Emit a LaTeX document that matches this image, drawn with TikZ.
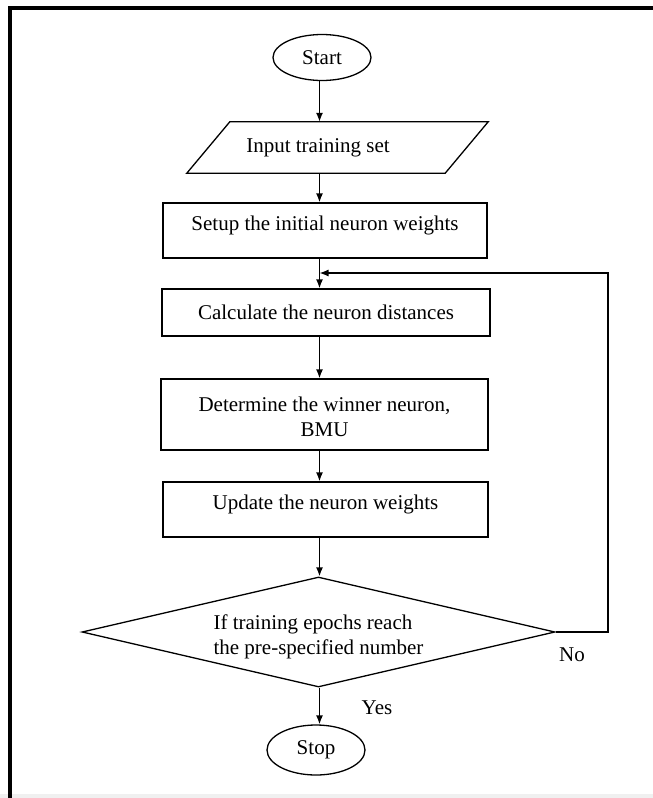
\documentclass[tikz,border=0pt]{standalone}
\usepackage{fontspec}
\setmainfont{Liberation Serif}
\usetikzlibrary{arrows.meta}
\usetikzlibrary{shapes.geometric}
\usetikzlibrary{calc}

\begin{document}
\begin{tikzpicture}[
  x=1pt, y=-1pt,
  > = {Latex[length=9pt,width=7pt]},
  every node/.style = {font=\fontsize{21}{25}\selectfont},
  terminal/.style = {draw, ellipse, line width=1.3pt, inner sep=0pt, minimum width=98pt, minimum height=46pt},
  io/.style = {inner sep=0pt, minimum width=301pt, minimum height=51pt},
  block/.style = {draw, rectangle, line width=1.3pt, inner sep=0pt, align=center, minimum height=55pt},
  upper text/.style = {text height=15pt, text depth=16pt},
  decision/.style = {draw, diamond, shape aspect=4.3, line width=1.3pt, inner sep=0pt, align=left, minimum width=473pt, minimum height=110pt},
  flow/.style = {->, line width=1.4pt}
  ]
  \useasboundingbox (0,0) rectangle (653,798);
  \fill[black!6] (0,794) rectangle (653,798);
  \draw[line width=3.5pt] (10,798) |- (653,8);

  \coordinate (axis) at (319.5,0);
  \coordinate (back) at (608,273);

  \node[terminal] (start) at (322,57.5) {Start};
  \node[io] (input) at (337.5,147.5) {};
  \draw[line width=1.3pt] (input.south west) -- ($(input.north west)+(43,0)$)
    -- (input.north east) -- ($(input.south east)+(-43,0)$) -- cycle;
  \node (inputtext) at (318,148) {Input training set};
  \node[block, upper text, minimum width=324pt] (setup) at (325,230.5) {Setup the initial neuron weights};
  \node[block, minimum width=328pt, minimum height=47pt] (calc) at (326,312.5) {Calculate the neuron distances};
  \node[block, minimum width=327pt, minimum height=71pt, text height=44pt] (winner) at (324.5,414.5) {Determine the winner neuron,\\ BMU};
  \node[block, upper text, minimum width=325pt] (update) at (325.5,509.5) {Update the neuron weights};
  \node[decision, text height=50pt] (check) at (318.5,632) {If training epochs reach\\ the pre-specified number};
  \node[terminal, minimum height=50pt] (stop) at (316,750) {Stop};
  \node (no) at (572,655) {No};
  \node (yes) at (377,708) {Yes};

  \draw[flow] (axis |- start.south) -- (axis |- input.north);
  \draw[flow] (axis |- input.south) -- (axis |- setup.north);
  \draw[flow] (axis |- setup.south) -- (axis |- calc.north);
  \draw[flow] (axis |- calc.south) -- (axis |- winner.north);
  \draw[flow] (axis |- winner.south) -- (axis |- update.north);
  \draw[flow] (axis |- update.south) -- (axis |- check.north);
  \draw[flow] (axis |- check.south) -- (axis |- stop.north);
  \draw[flow, line width=1.3pt] (check.east) -| (back) -- (axis |- back);

\end{tikzpicture}
\end{document}
